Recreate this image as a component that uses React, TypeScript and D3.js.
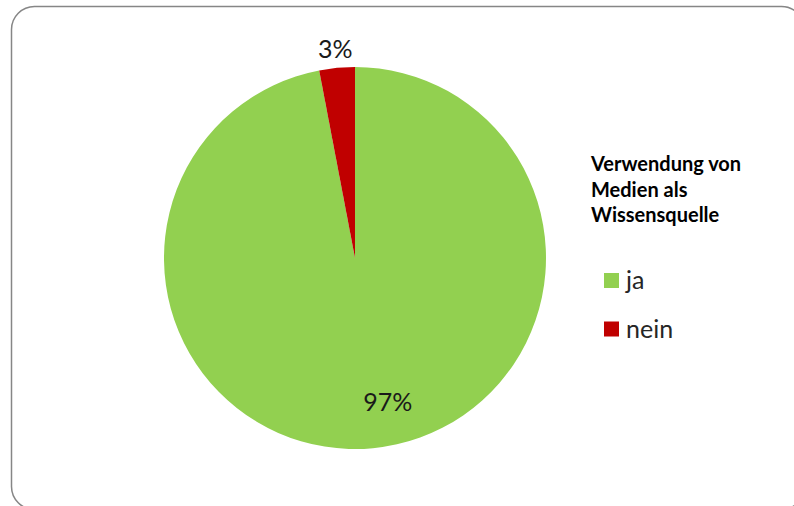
import React from "react";
import * as d3 from "d3";

const categories = ["ja", "nein"];
const values = [97, 3];
const labels = ["97%", "3%"];
const colors = ["#92D050", "#C00000"];
const legendTitle = ["Verwendung von", "Medien als", "Wissensquelle"];

export default function App() {
  const W = 794, H = 506;
  const cx = 355, cy = 258, r = 191;
  const pie = d3.pie<number>().sort(null).value((d) => d).startAngle(0).endAngle(2 * Math.PI);
  const arcs = pie(values);
  const arc = d3.arc<d3.PieArcDatum<number>>().innerRadius(0).outerRadius(r);
  const font = "Lato, 'Open Sans', sans-serif";
  // label placement (best-fit style): [angle offset in radians, radius]
  const labelPlace = [
    [-0.13, 147],
    [0.0, 211],
  ];
  const labelPos = arcs.map((a, i) => {
    const mid = (a.startAngle + a.endAngle) / 2 + labelPlace[i][0];
    const rr = labelPlace[i][1];
    return [Math.sin(mid) * rr, -Math.cos(mid) * rr];
  });
  return (
    <svg width={W} height={H} style={{ position: "fixed", left: 0, top: 0, background: "#fff" }}>
      <rect x={11.5} y={6.5} width={793} height={503} rx={23} ry={23} fill="#fff" stroke="#868686" strokeWidth={1.5} />
      <g transform={`translate(${cx},${cy})`}>
        {arcs.map((a, i) => (
          <path key={categories[i]} d={arc(a) || ""} fill={colors[i]} />
        ))}
        {arcs.map((a, i) => (
          <text
            key={"l" + i}
            x={labelPos[i][0]}
            y={labelPos[i][1]}
            textAnchor="middle"
            dominantBaseline="central"
            fontFamily={font}
            fontSize={25}
            fill="#1a1a1a"
          >
            {labels[i]}
          </text>
        ))}
      </g>
      <g fontFamily={font}>
        {legendTitle.map((t, i) => (
          <text key={t} x={591} y={171 + i * 25.5} fontSize={20} fontWeight="bold" fill="#000">
            {t}
          </text>
        ))}
        {categories.map((c, i) => (
          <g key={c} transform={`translate(604,${273 + i * 48.5})`}>
            <rect width={15} height={15} fill={colors[i]} />
            <text x={22} y={16} fontSize={25} fill="#262626">
              {c}
            </text>
          </g>
        ))}
      </g>
    </svg>
  );
}
